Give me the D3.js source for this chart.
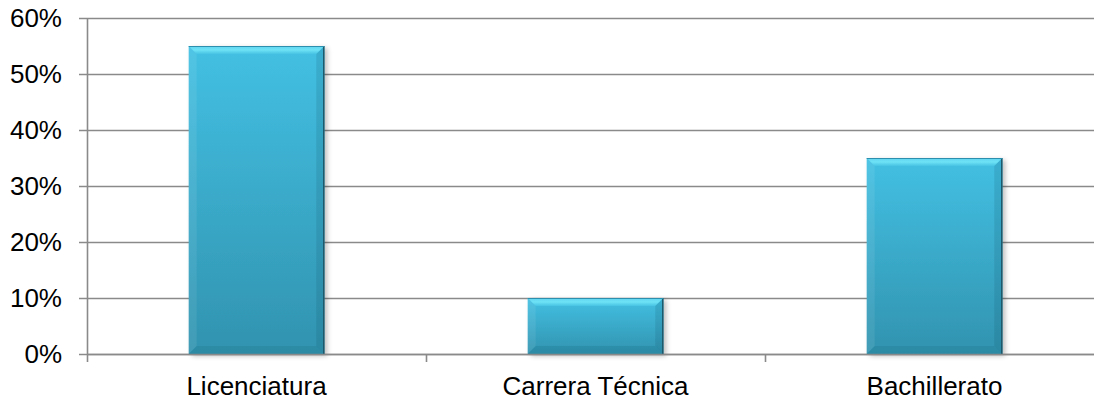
<!DOCTYPE html>
<html>
<head>
<meta charset="utf-8">
<script src="https://cdn.jsdelivr.net/npm/d3@7"></script>
<style>
  html, body { margin: 0; padding: 0; background: #fff; }
  svg { display: block; }
  text { font-family: "Liberation Sans", Arial, sans-serif; fill: #000; }
</style>
</head>
<body>
<svg id="chart" width="1094" height="400"></svg>
<script>
// Education level shares
const categories = ["Licenciatura", "Carrera Técnica", "Bachillerato"];
const values = [55, 10, 35];
const yTicks = [0, 10, 20, 30, 40, 50, 60];

const svg = d3.select("#chart");
const margin = { left: 87, right: -10, top: 18, bottom: 46 };
const W = 1094, H = 400;

const x = d3.scaleBand()
  .domain(categories)
  .range([margin.left, W - margin.right])
  .paddingInner(0.6)
  .paddingOuter(0.3);

const y = d3.scaleLinear()
  .domain([0, 60])
  .range([H - margin.bottom, margin.top]);

const defs = svg.append("defs");

const body = defs.append("linearGradient").attr("id", "barBody")
  .attr("x1", 0).attr("y1", 0).attr("x2", 0).attr("y2", 1);
body.append("stop").attr("offset", "0%").attr("stop-color", "#43C0E3");
body.append("stop").attr("offset", "100%").attr("stop-color", "#3193AF");

const topG = defs.append("linearGradient").attr("id", "bevelTop")
  .attr("x1", 0).attr("y1", 0).attr("x2", 0).attr("y2", 1);
topG.append("stop").attr("offset", "0%").attr("stop-color", "#5ED4EE");
topG.append("stop").attr("offset", "50%").attr("stop-color", "#6EE2F6");
topG.append("stop").attr("offset", "100%").attr("stop-color", "#47C3E4");

const shadow = defs.append("filter").attr("id", "barShadow")
  .attr("x", "-10%").attr("y", "-10%").attr("width", "125%").attr("height", "125%");
shadow.append("feGaussianBlur").attr("in", "SourceAlpha").attr("stdDeviation", 2.5);
shadow.append("feOffset").attr("dx", 3).attr("dy", 2).attr("result", "off");
shadow.append("feComponentTransfer").append("feFuncA").attr("type", "linear").attr("slope", 0.25);
const merge = shadow.append("feMerge");
merge.append("feMergeNode");
merge.append("feMergeNode").attr("in", "SourceGraphic");

// Gridlines with left tick stubs
svg.append("g").selectAll("line.grid")
  .data(yTicks)
  .join("line")
  .attr("x1", margin.left - 8)
  .attr("x2", W)
  .attr("y1", d => Math.round(y(d)) + 0.5)
  .attr("y2", d => Math.round(y(d)) + 0.5)
  .attr("stroke", "#8a8a8a")
  .attr("stroke-width", 1.6);

// Y tick labels
svg.append("g").selectAll("text.ylab")
  .data(yTicks)
  .join("text")
  .attr("x", 62)
  .attr("y", d => y(d))
  .attr("dy", "0.35em")
  .attr("text-anchor", "end")
  .attr("font-size", 26)
  .text(d => d + "%");

// Vertical axis line
svg.append("line")
  .attr("x1", margin.left + 0.5).attr("x2", margin.left + 0.5)
  .attr("y1", y(60)).attr("y2", y(0) + 8)
  .attr("stroke", "#8a8a8a").attr("stroke-width", 1.6);

// Category boundary ticks below the baseline
const catWidth = (W - margin.right - margin.left) / categories.length;
const bounds = categories.slice(1).map((c, i) => margin.left + (i + 1) * catWidth);
svg.append("g").selectAll("line.xt")
  .data(bounds)
  .join("line")
  .attr("x1", d => Math.round(d) + 0.5).attr("x2", d => Math.round(d) + 0.5)
  .attr("y1", y(0)).attr("y2", y(0) + 8)
  .attr("stroke", "#8a8a8a").attr("stroke-width", 1.6);

// Bars with bevel
const bw = x.bandwidth();
const bev = 8;
const bars = svg.append("g").selectAll("g.bar")
  .data(categories.map((c, i) => ({ c, v: values[i] })))
  .join("g")
  .attr("class", "bar");

bars.each(function(d) {
  const g = d3.select(this);
  const x0 = x(d.c), x1 = x0 + bw;
  const y0 = y(d.v), y1 = y(0);
  const b = Math.min(bev, (y1 - y0) / 3);

  g.append("rect")
    .attr("x", x0).attr("y", y0).attr("width", bw).attr("height", y1 - y0)
    .attr("fill", "url(#barBody)")
    .attr("filter", "url(#barShadow)");

  // top bevel
  g.append("polygon")
    .attr("points", [[x0, y0], [x1, y0], [x1 - b, y0 + b], [x0 + b, y0 + b]].join(" "))
    .attr("fill", "url(#bevelTop)");
  // left bevel
  g.append("polygon")
    .attr("points", [[x0, y0], [x0 + b, y0 + b], [x0 + b, y1 - b], [x0, y1]].join(" "))
    .attr("fill", "#ffffff").attr("fill-opacity", 0.08);
  // right bevel
  g.append("polygon")
    .attr("points", [[x1, y0], [x1, y1], [x1 - b, y1 - b], [x1 - b, y0 + b]].join(" "))
    .attr("fill", "#0c4a5e").attr("fill-opacity", 0.15);
  // bottom bevel
  g.append("polygon")
    .attr("points", [[x0, y1], [x1, y1], [x1 - b, y1 - b], [x0 + b, y1 - b]].join(" "))
    .attr("fill", "#0c4a5e").attr("fill-opacity", 0.12);
  // dark right edge
  g.append("line")
    .attr("x1", x1 - 0.5).attr("x2", x1 - 0.5).attr("y1", y0).attr("y2", y1)
    .attr("stroke", "#1d5668").attr("stroke-width", 1.5);
  // dark top edge
  g.append("line")
    .attr("x1", x0).attr("x2", x1).attr("y1", y0 + 0.5).attr("y2", y0 + 0.5)
    .attr("stroke", "#2c8fae").attr("stroke-width", 1);
});

// Redraw baseline over bar bottoms
svg.append("line")
  .attr("x1", margin.left).attr("x2", W)
  .attr("y1", Math.round(y(0)) + 0.5).attr("y2", Math.round(y(0)) + 0.5)
  .attr("stroke", "#8a8a8a").attr("stroke-width", 1.6);

// Category labels
svg.append("g").selectAll("text.xlab")
  .data(categories)
  .join("text")
  .attr("x", d => x(d) + bw / 2)
  .attr("y", 395)
  .attr("text-anchor", "middle")
  .attr("font-size", 26)
  .text(d => d);
</script>
</body>
</html>
